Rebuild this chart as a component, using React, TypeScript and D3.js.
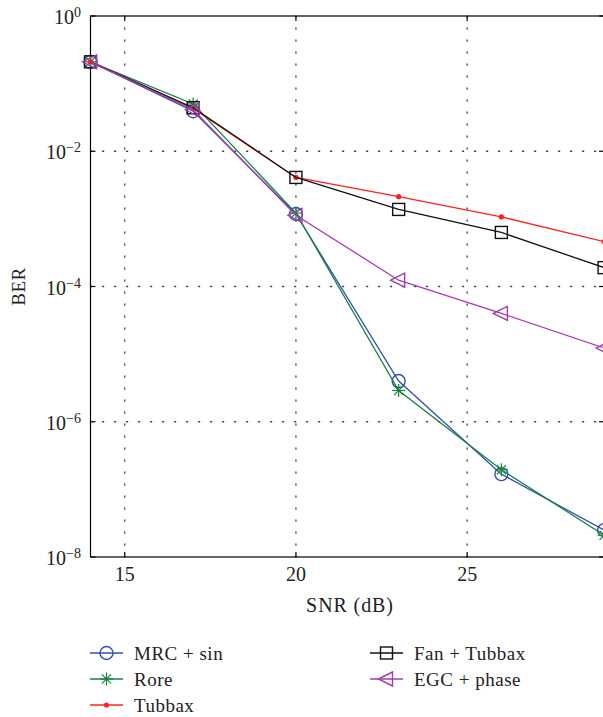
import React from "react";
import * as d3 from "d3";

const snr = [14, 17, 20, 23, 26, 29];
const mrcSin = [0.21, 0.039, 0.00118, 4.0e-6, 1.68e-7, 2.5e-8];
const rore = [0.21, 0.05, 0.00122, 2.9e-6, 1.95e-7, 2.1e-8];
const tubbax = [0.21, 0.043, 0.0041, 0.00213, 0.00107, 4.6e-4];
const fanTubbax = [0.21, 0.044, 0.0041, 0.00138, 6.3e-4, 1.9e-4];
const egcPhase = [0.21, 0.041, 0.00113, 1.24e-4, 4.0e-5, 1.23e-5];

const xTicks = [15, 20, 25];
const yTicks = [0, -2, -4, -6, -8];

type Marker = "circle" | "star" | "dot" | "square" | "triangle";
const series: { name: string; values: number[]; color: string; marker: Marker }[] = [
  { name: "MRC + sin", values: mrcSin, color: "#3050b0", marker: "circle" },
  { name: "Rore", values: rore, color: "#1a8040", marker: "star" },
  { name: "Tubbax", values: tubbax, color: "#ff2020", marker: "dot" },
  { name: "Fan + Tubbax", values: fanTubbax, color: "#111111", marker: "square" },
  { name: "EGC + phase", values: egcPhase, color: "#a040a8", marker: "triangle" },
];

const FONT = "'Liberation Serif', 'DejaVu Serif', serif";

function MarkerShape({ m, x, y, color }: { m: Marker; x: number; y: number; color: string }) {
  const sw = 1.4;
  if (m === "circle") return <circle cx={x} cy={y} r={6.5} fill="none" stroke={color} strokeWidth={sw} />;
  if (m === "dot") return <circle cx={x} cy={y} r={2.6} fill={color} stroke="none" />;
  if (m === "square")
    return <rect x={x - 6} y={y - 6} width={12} height={12} fill="none" stroke={color} strokeWidth={sw} />;
  if (m === "triangle") {
    const p = `${x - 8},${y} ${x + 6},${y - 7} ${x + 6},${y + 7}`;
    return <polygon points={p} fill="none" stroke={color} strokeWidth={sw} />;
  }
  const r = 6.5;
  const lines = [0, 45, 90, 135].map((a) => {
    const rad = (a * Math.PI) / 180;
    return (
      <line key={a} x1={x - r * Math.cos(rad)} y1={y - r * Math.sin(rad)} x2={x + r * Math.cos(rad)} y2={y + r * Math.sin(rad)} stroke={color} strokeWidth={1.2} />
    );
  });
  return <g>{lines}</g>;
}

export default function App() {
  const W = 603;
  const H = 717;
  const left = 90.5;
  const top = 16;
  const bottom = 557;
  const x = d3.scaleLinear().domain([14, 29]).range([left, left + 15 * 34.24]);
  const y = d3.scaleLog().domain([1, 1e-8]).range([top, bottom]);
  const right = x(29);
  const line = d3
    .line<number>()
    .x((_, i) => x(snr[i]))
    .y((d) => y(d));

  const gridDash = "1.2,10.8";
  const legendItems = [
    { s: series[0], lx: 90, ty: 653 },
    { s: series[1], lx: 90, ty: 679 },
    { s: series[2], lx: 90, ty: 705 },
    { s: series[3], lx: 370, ty: 653 },
    { s: series[4], lx: 370, ty: 679 },
  ];

  return (
    <svg width={W} height={H} style={{ position: "absolute", left: 0, top: 0, background: "#fff" }} fontFamily={FONT}>
      <rect width={W} height={H} fill="#fff" />
      {/* grid */}
      {xTicks.map((t) => (
        <line key={"gx" + t} x1={x(t)} x2={x(t)} y1={top} y2={bottom} stroke="#444" strokeWidth={1.3} strokeDasharray={gridDash} strokeLinecap="round" />
      ))}
      {yTicks.slice(1, -1).map((e) => (
        <line key={"gy" + e} x1={left} x2={right} y1={y(Math.pow(10, e))} y2={y(Math.pow(10, e))} stroke="#444" strokeWidth={1.3} strokeDasharray={gridDash} strokeLinecap="round" />
      ))}
      {/* frame */}
      <rect x={left} y={top} width={right - left} height={bottom - top} fill="none" stroke="#000" strokeWidth={1.2} />
      {/* ticks */}
      {xTicks.map((t) => (
        <g key={"tx" + t}>
          <line x1={x(t)} x2={x(t)} y1={bottom} y2={bottom - 5} stroke="#000" strokeWidth={1.2} />
          <line x1={x(t)} x2={x(t)} y1={top} y2={top + 5} stroke="#000" strokeWidth={1.2} />
          <text x={x(t)} y={bottom + 24} textAnchor="middle" fontSize={20} fill="#222">
            {t}
          </text>
        </g>
      ))}
      {yTicks.map((e) => {
        const yy = y(Math.pow(10, e));
        return (
          <g key={"ty" + e}>
            <line x1={left} x2={left + 5} y1={yy} y2={yy} stroke="#000" strokeWidth={1.2} />
            <line x1={right} x2={right - 5} y1={yy} y2={yy} stroke="#000" strokeWidth={1.2} />
            <text x={81} y={yy + 8} textAnchor="end" fontSize={20} fill="#222">
              10
              <tspan dy={-7} fontSize={14}>
                {e === 0 ? "0" : "\u2212" + Math.abs(e)}
              </tspan>
            </text>
          </g>
        );
      })}
      {/* axis labels */}
      <text x={350} y={612} textAnchor="middle" fontSize={20} letterSpacing={0.9} fill="#222">
        SNR (dB)
      </text>
      <text transform={`translate(25, ${(top + bottom) / 2}) rotate(-90)`} textAnchor="middle" fontSize={19} letterSpacing={0.5} fill="#222">
        BER
      </text>
      {/* series */}
      {series.map((s) => (
        <g key={s.name}>
          <path d={line(s.values) || ""} fill="none" stroke={s.color} strokeWidth={1.3} />
          {s.values.map((v, i) => (
            <MarkerShape key={i} m={s.marker} x={x(snr[i])} y={y(v)} color={s.color} />
          ))}
        </g>
      ))}
      {/* legend */}
      {legendItems.map(({ s, lx, ty }) => (
        <g key={"lg" + s.name}>
          <line x1={lx} x2={lx + 33} y1={ty} y2={ty} stroke={s.color} strokeWidth={1.3} />
          <MarkerShape m={s.marker} x={lx + 16.5} y={ty} color={s.color} />
          <text x={lx + 44} y={ty + 7} fontSize={19} letterSpacing={0.5} fill="#222">
            {s.name}
          </text>
        </g>
      ))}
    </svg>
  );
}
